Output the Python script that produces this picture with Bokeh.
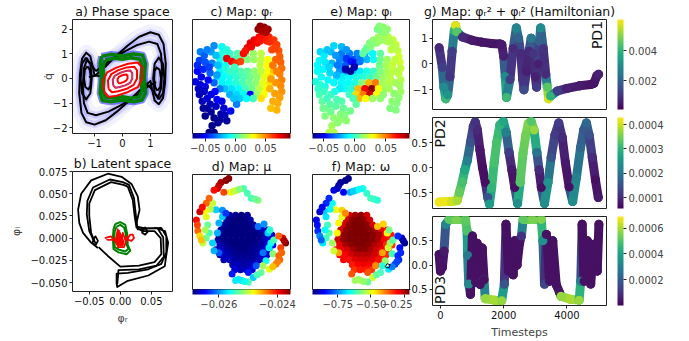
import numpy as np
from bokeh.plotting import figure
from bokeh.layouts import row, column
from bokeh.models import (ColumnDataSource, LinearColorMapper, ColorBar, FixedTicker,
                          CustomJSTickFormatter, Label, Range1d, AllLabels)
from bokeh.palettes import Viridis256
from bokeh.embed import file_html
from bokeh.resources import INLINE

FONT = "DejaVu Sans"

# ======================= DATA =======================
# --- a) phase space trajectories (q, q_dot) ---
BLACK_OUTER_Q = [-1.0, -0.6, -0.2, 0.2, 0.6, 1.0, 1.3, 1.47, 1.55, 1.52, 1.45, 1.3, 1.15, 1.05, 1.0,
                 0.6, 0.2, -0.2, -0.6, -1.0, -1.3, -1.47, -1.55, -1.52, -1.45, -1.3, -1.15, -1.05, -1.0]
BLACK_OUTER_QD = [0.1, 0.5, 0.95, 1.35, 1.7, 1.88, 1.78, 1.4, 0.6, -0.2, -0.8, -1.05, -0.9, -0.4, -0.1,
                  -0.5, -0.95, -1.35, -1.7, -1.88, -1.78, -1.4, -0.6, 0.2, 0.8, 1.05, 0.9, 0.4, 0.1]
BLACK_INNER_Q = [-0.95, -0.5, 0.0, 0.5, 0.95, 1.25, 1.38, 1.42, 1.38, 1.28, 1.15, 0.95,
                 0.5, 0.0, -0.5, -0.95, -1.25, -1.38, -1.42, -1.38, -1.28, -1.15, -0.95]
BLACK_INNER_QD = [0.3, 0.7, 1.05, 1.35, 1.5, 1.4, 1.0, 0.3, -0.4, -0.75, -0.6, -0.3,
                  -0.7, -1.05, -1.35, -1.5, -1.4, -1.0, -0.3, 0.4, 0.75, 0.6, 0.3]
LOBE_L_Q = [-1.3, -1.45, -1.5, -1.45, -1.3, -1.15, -1.1, -1.15, -1.3]
LOBE_L_QD = [0.85, 0.6, 0.0, -0.6, -0.85, -0.6, 0.0, 0.6, 0.85]
LOBE_L2_Q = [-1.25, -1.35, -1.38, -1.33, -1.22, -1.15, -1.13, -1.17, -1.25]
LOBE_L2_QD = [0.5, 0.35, 0.0, -0.35, -0.45, -0.3, 0.0, 0.35, 0.5]
LOBE_R_Q = [1.3, 1.45, 1.5, 1.45, 1.3, 1.15, 1.1, 1.15, 1.3]
LOBE_R_QD = [-0.85, -0.6, 0.0, 0.6, 0.85, 0.6, 0.0, -0.6, -0.85]
LOBE_R2_Q = [1.25, 1.35, 1.38, 1.33, 1.22, 1.15, 1.13, 1.17, 1.25]
LOBE_R2_QD = [-0.5, -0.35, 0.0, 0.35, 0.45, 0.3, 0.0, -0.35, -0.5]
BRIDGE_L_Q = [-1.2, -0.95, -0.7]
BRIDGE_L_QD = [0.05, 0.12, 0.08]
BRIDGE_R_Q = [0.7, 0.95, 1.2]
BRIDGE_R_QD = [-0.25, -0.3, -0.15]
GREEN_Q = [-0.75, -0.4, 0.0, 0.4, 0.72, 0.82, 0.78, 0.82, 0.7, 0.4, 0.0, -0.4, -0.72, -0.8, -0.76, -0.8, -0.75]
GREEN_QD = [0.9, 0.98, 0.92, 1.0, 0.95, 0.6, 0.0, -0.6, -0.88, -0.95, -0.88, -0.95, -0.9, -0.6, 0.0, 0.6, 0.9]
GREEN2_Q = [-0.62, -0.3, 0.0, 0.3, 0.62, 0.7, 0.66, 0.7, 0.6, 0.3, 0.0, -0.3, -0.62, -0.7, -0.66, -0.7, -0.62]
GREEN2_QD = [0.75, 0.82, 0.78, 0.84, 0.78, 0.5, 0.0, -0.5, -0.75, -0.8, -0.74, -0.8, -0.75, -0.5, 0.0, 0.5, 0.75]
RED1_Q = [-0.65, -0.7, -0.55, -0.2, 0.2, 0.55, 0.7, 0.7, 0.55, 0.2, -0.2, -0.5, -0.65]
RED1_QD = [-0.55, -0.1, 0.25, 0.45, 0.6, 0.65, 0.45, 0.0, -0.35, -0.55, -0.7, -0.75, -0.55]
RED2_Q = [-0.5, -0.52, -0.4, -0.15, 0.15, 0.42, 0.52, 0.52, 0.4, 0.15, -0.15, -0.38, -0.5]
RED2_QD = [-0.42, -0.08, 0.18, 0.34, 0.45, 0.48, 0.33, 0.0, -0.26, -0.42, -0.52, -0.56, -0.42]
RED3_Q = [-0.33, -0.35, -0.27, -0.1, 0.1, 0.28, 0.35, 0.35, 0.27, 0.1, -0.1, -0.25, -0.33]
RED3_QD = [-0.28, -0.05, 0.12, 0.22, 0.3, 0.32, 0.22, 0.0, -0.18, -0.28, -0.35, -0.38, -0.28]
RED4_Q = [-0.17, -0.18, -0.13, -0.05, 0.05, 0.14, 0.18, 0.18, 0.13, 0.05, -0.05, -0.13, -0.17]
RED4_QD = [-0.14, -0.03, 0.06, 0.11, 0.15, 0.16, 0.11, 0.0, -0.09, -0.14, -0.18, -0.19, -0.14]

# --- b) latent space (phi_R, phi_I) ---
B_OUT_X = [-0.036, -0.047, -0.060, -0.066, -0.068, -0.063, -0.047, -0.020, 0.002, 0.018,
           0.028, 0.031, 0.026, 0.028, 0.045, 0.066, 0.074, 0.074, 0.066, 0.045,
           0.012, -0.006, -0.006, -0.005, 0.012, 0.045, 0.0715, 0.077, 0.072, 0.055]
B_OUT_Y = [-0.011, -0.005, 0.006, 0.017, 0.032, 0.050, 0.065, 0.0725, 0.069, 0.061,
           0.047, 0.032, 0.017, 0.010, 0.011, 0.0115, 0.002, -0.016, -0.029, -0.035,
           -0.039, -0.040, -0.051, -0.055, -0.048, -0.042, -0.0315, -0.005, 0.008, 0.012]
B_IN_X = [-0.040, -0.047, -0.050, -0.050, -0.041, -0.015, 0.005, 0.012, 0.020, 0.023,
          0.026, 0.035, 0.055, 0.065, 0.066, 0.055, 0.030, 0.000, -0.020, -0.035]
B_IN_Y = [-0.006, 0.006, 0.025, 0.039, 0.054, 0.063, 0.060, 0.058, 0.043, 0.025,
          0.012, 0.008, 0.008, 0.000, -0.018, -0.027, -0.031, -0.032, -0.020, -0.010]
B_IN2_X = [-0.042, -0.050, -0.054, -0.053, -0.044, -0.017, 0.004, 0.014, 0.022, 0.025,
           0.027, 0.040, 0.060, 0.069, 0.070, 0.058, 0.030, -0.003, -0.004, -0.005]
B_IN2_Y = [-0.004, 0.008, 0.027, 0.042, 0.057, 0.066, 0.063, 0.060, 0.045, 0.026,
           0.013, 0.011, 0.011, 0.001, -0.021, -0.031, -0.035, -0.036, -0.045, -0.052]
CURL_L_X = [-0.045, -0.040, -0.036, -0.040, -0.045, -0.042]
CURL_L_Y = [-0.002, 0.002, -0.003, -0.008, -0.005, 0.0]
CURL_R_X = [0.034, 0.040, 0.044, 0.040, 0.035, 0.038]
CURL_R_Y = [0.008, 0.012, 0.007, 0.004, 0.006, 0.010]
GB_X = [-0.008, 0.000, 0.008, 0.011, 0.012, 0.016, 0.010, -0.003, -0.011, -0.012, -0.011, -0.008]
GB_Y = [0.016, 0.018, 0.015, 0.005, -0.008, -0.014, -0.018, -0.016, -0.012, 0.000, 0.010, 0.016]
GB2_X = [-0.006, 0.0, 0.006, 0.009, 0.010, 0.013, 0.008, -0.002, -0.009, -0.010, -0.009, -0.006]
GB2_Y = [0.013, 0.015, 0.012, 0.004, -0.007, -0.012, -0.015, -0.013, -0.010, 0.0, 0.008, 0.013]
RB_X = [-0.025, -0.015, -0.008, -0.004, 0.0, 0.004, 0.008, 0.012, 0.006, -0.004, 0.0, -0.010, -0.020, -0.024]
RB_Y = [0.0, 0.002, -0.004, 0.010, -0.008, 0.006, -0.002, 0.002, -0.010, -0.010, 0.004, -0.002, -0.002, 0.001]
RB2_X = [0.012, 0.016, 0.020, 0.022, 0.018, 0.013, 0.012]
RB2_Y = [0.000, 0.004, 0.004, 0.000, -0.003, -0.002, 0.000]
RBP_X = [-0.008, -0.002, 0.006, 0.004, -0.006]
RBP_Y = [-0.004, 0.009, -0.004, -0.009, -0.008]

# --- c/e) point cloud coloured by phi_R and phi_I ---
TOP_X = [6.7, 6.9, 7.3, 7.7, 7.1, 7.5]
TOP_Y = [10.7, 11.0, 10.9, 10.7, 10.5, 10.4]
TOP_R = [0.087, 0.088, 0.086, 0.085, 0.084, 0.083]
TOP_I = [0.008, 0.010, 0.012, 0.012, 0.010, 0.012]

ARC_X = [5.2, 5.6, 5.9, 6.3, 6.8, 7.3, 7.8, 8.3, 8.6, 8.8, 8.9, 9.0, 9.1, 8.9, 9.1, 9.0, 9.1, 8.9, 8.7, 8.6,
         8.4, 8.5, 8.6, 8.5, 8.4, 7.6, 6.6, 8.2, 8.0,
         5.4, 6.0, 6.9, 7.9, 8.1, 8.2, 8.0, 7.9]
ARC_Y = [8.2, 8.8, 9.3, 9.6, 9.9, 10.0, 9.9, 9.6, 9.1, 8.5, 7.9, 7.3, 6.7, 6.1, 5.5, 4.9, 4.3, 3.7, 3.1, 2.4,
         8.8, 7.6, 6.4, 5.2, 4.1, 9.5, 9.3, 3.3, 2.6,
         8.5, 8.9, 9.5, 9.4, 8.6, 7.0, 5.6, 4.6]
ARC_R = [0.070, 0.072, 0.075, 0.073, 0.070, 0.068, 0.065, 0.062, 0.060, 0.058,
         0.056, 0.055, 0.053, 0.050, 0.050, 0.048, 0.047, 0.045, 0.043, 0.042,
         0.060, 0.055, 0.050, 0.047, 0.045, 0.066, 0.070, 0.043, 0.040,
         0.068, 0.072, 0.068, 0.064, 0.060, 0.052, 0.046, 0.042]
ARC_I = [0.005, 0.008, 0.010, 0.012, 0.015, 0.015, 0.018, 0.020, 0.020, 0.020,
         0.022, 0.022, 0.020, 0.020, 0.018, 0.015, 0.015, 0.012, 0.010, 0.010,
         0.018, 0.020, 0.018, 0.015, 0.012, 0.016, 0.012, 0.012, 0.010,
         0.006, 0.010, 0.014, 0.017, 0.019, 0.020, 0.018, 0.016]

LEFT_X = [0.8, 1.2, 0.7, 1.3, 0.5, 1.1, 0.3, 0.9, 0.8, 1.3, 1.2, 0.7, 1.0, 1.5, 1.5, 1.3, 1.9, 2.2, 2.9, 3.5,
          2.0, 2.2, 1.7, 2.6, 3.9, 4.5, 4.2, 2.4, 3.2, 1.9, 2.5,
          0.5, 1.6, 1.7, 0.6, 1.8, 2.3, 1.1, 3.0, 2.8, 3.3, 1.5]
LEFT_Y = [8.4, 8.0, 7.5, 7.3, 6.4, 6.6, 5.3, 5.8, 5.0, 4.8, 4.3, 4.0, 3.3, 3.6, 2.6, 1.8, 2.2, 1.6, 2.0, 1.3,
          0.8, 0.1, 0.1, 1.1, 2.3, 3.0, 3.6, 2.8, 2.6, 4.0, 3.5,
          7.0, 5.5, 6.8, 4.6, 3.0, 4.3, 2.6, 3.3, 1.4, 1.9, 8.6]
LEFT_R = [-0.030, -0.035, -0.040, -0.038, -0.050, -0.045, -0.055, -0.052, -0.057, -0.055,
          -0.060, -0.062, -0.062, -0.058, -0.066, -0.068, -0.066, -0.068, -0.064, -0.066,
          -0.069, -0.070, -0.070, -0.067, -0.050, -0.030, -0.020, -0.060, -0.058, -0.055, -0.050,
          -0.045, -0.050, -0.040, -0.060, -0.062, -0.050, -0.066, -0.055, -0.067, -0.062, -0.030]
LEFT_I = [-0.015, -0.012, -0.010, -0.012, -0.008, -0.010, -0.005, -0.008, -0.003, -0.005,
          0.000, 0.002, 0.005, 0.000, 0.008, 0.010, 0.008, 0.012, 0.010, 0.012,
          0.015, 0.018, 0.018, 0.012, 0.008, 0.005, 0.002, 0.005, 0.006, 0.000, 0.002,
          -0.010, -0.010, -0.015, -0.002, 0.004, -0.005, 0.008, 0.003, 0.012, 0.010, -0.018]

UL_X = [1.9, 2.4, 2.0, 2.6, 1.8, 2.5, 2.2, 2.8, 3.0, 3.5, 2.2]
UL_Y = [8.4, 8.0, 7.2, 7.0, 6.2, 6.0, 5.2, 4.6, 8.9, 8.6, 9.0]
UL_R = [-0.025, -0.020, -0.030, -0.020, -0.035, -0.025, -0.035, -0.030, -0.010, -0.005, -0.028]
UL_I = [-0.020, -0.025, -0.020, -0.030, -0.015, -0.020, -0.010, -0.012, -0.020, -0.025, -0.015]

BAND_X = [3.0, 3.8, 4.6, 5.4, 6.2, 7.0,
          2.8, 3.5, 4.2, 4.9, 5.6, 6.3, 7.0, 7.7,
          2.8, 3.4, 6.9, 7.6, 8.2,
          2.8, 3.5, 4.2, 4.9, 5.6, 6.3, 7.0, 7.7, 8.3,
          2.5, 3.1, 3.8, 4.5, 5.2, 5.9, 6.6, 7.3, 8.0,
          3.0, 3.7, 4.4, 5.1, 5.8, 6.5, 7.2, 7.9,
          3.3, 4.0, 4.7, 5.4, 6.1, 6.8, 7.5,
          3.8, 4.5, 5.2, 5.9, 6.6, 7.3,
          4.8, 5.5, 6.2, 7.0]
BAND_Y = [8.2, 8.2, 8.2, 8.2, 8.2, 8.2,
          7.6, 7.6, 7.6, 7.6, 7.6, 7.6, 7.6, 7.6,
          7.0, 7.0, 7.0, 7.0, 7.0,
          6.4, 6.4, 6.4, 6.4, 6.4, 6.4, 6.4, 6.4, 6.4,
          5.8, 5.8, 5.8, 5.8, 5.8, 5.8, 5.8, 5.8, 5.8,
          5.2, 5.2, 5.2, 5.2, 5.2, 5.2, 5.2, 5.2,
          4.6, 4.6, 4.6, 4.6, 4.6, 4.6, 4.6,
          4.0, 4.0, 4.0, 4.0, 4.0, 4.0,
          3.6, 3.6, 3.6, 3.6]
BAND_R = [-0.005, -0.002, 0.003, 0.009, 0.014, 0.020,
          -0.008, -0.004, 0.000, 0.006, 0.010, 0.014, 0.020, 0.030,
          -0.012, -0.008, 0.020, 0.030, 0.040,
          -0.012, -0.007, -0.003, 0.002, 0.005, 0.012, 0.020, 0.030, 0.040,
          -0.015, -0.010, -0.007, -0.002, 0.002, 0.008, 0.013, 0.026, 0.035,
          -0.012, -0.008, -0.004, 0.001, 0.008, 0.012, 0.026, 0.035,
          -0.020, -0.015, -0.010, 0.000, 0.008, 0.020, 0.030,
          -0.022, -0.016, -0.010, -0.050, 0.015, 0.030,
          -0.018, -0.010, 0.000, 0.035]
BAND_I = [-0.030, -0.030, -0.028, -0.022, -0.010, 0.005,
          -0.028, -0.032, -0.035, -0.030, -0.020, -0.008, 0.008, 0.015,
          -0.025, -0.035, 0.008, 0.015, 0.020,
          -0.025, -0.030, -0.020, -0.012, -0.006, 0.000, 0.010, 0.016, 0.020,
          -0.012, -0.012, -0.010, -0.006, -0.004, 0.000, 0.008, 0.014, 0.018,
          -0.010, -0.008, -0.005, 0.010, 0.040, 0.050, 0.015, 0.018,
          -0.008, -0.004, 0.040, 0.070, 0.085, 0.030, 0.015,
          0.000, 0.035, 0.050, 0.075, 0.030, 0.012,
          0.040, 0.030, 0.015, 0.012]

HOLE_X = [3.5, 4.0, 4.4, 4.9, 3.4, 3.9, 4.3]
HOLE_Y = [7.7, 7.4, 7.2, 7.4, 6.6, 6.4, 6.8]
HOLE_R = [0.075, 0.070, 0.065, 0.060, -0.005, -0.002, 0.000]
HOLE_I = [-0.040, -0.045, -0.050, -0.030, -0.060, -0.065, -0.060]

# --- d/f) point cloud coloured by mu and omega ---
RING_X = [3.4, 3.7, 2.7, 2.55, 3.2, 1.7, 1.4, 0.75, 0.4, 0.55, 0.75, 9.2, 9.5, 8.8, 9.0, 8.8, 8.5, 8.9,
          2.9, 2.2, 1.0, 0.5, 0.9, 9.35, 9.1, 8.7, 8.2]
RING_Y = [11.0, 11.2, 10.5, 10.2, 9.8, 9.2, 8.7, 7.85, 7.0, 5.9, 5.4, 5.2, 4.7, 5.4, 4.2, 3.4, 2.55, 3.0,
          10.8, 10.0, 8.3, 6.5, 5.0, 4.95, 3.7, 2.8, 2.3]
RING_MU = [-0.0236, -0.0236, -0.0238, -0.0238, -0.0242, -0.0243, -0.0243, -0.0238, -0.0240, -0.0243,
           -0.0247, -0.0239, -0.0236, -0.0243, -0.0242, -0.0243, -0.0244, -0.0243,
           -0.0237, -0.0240, -0.0240, -0.0242, -0.0246, -0.0237, -0.0243, -0.0244, -0.0246]
RING_OM = [-0.93, -0.93, -0.90, -0.90, -0.85, -0.82, -0.82, -0.88, -0.86, -0.82,
           -0.75, -0.88, -0.93, -0.82, -0.84, -0.82, -0.80, -0.82,
           -0.92, -0.87, -0.86, -0.84, -0.78, -0.91, -0.82, -0.80, -0.76]
MID_X = [3.9, 4.5, 5.2, 6.0, 6.7, 2.05, 1.4, 1.55, 1.72, 2.05, 2.2, 1.06, 7.85, 7.0, 7.5, 8.0, 6.2, 5.7, 5.0, 4.4,
         4.2, 4.8, 5.6, 6.4, 1.8, 1.2, 1.3, 1.4, 7.2, 6.6, 5.3, 4.7, 8.2, 8.3, 7.9]
MID_Y = [9.8, 10.0, 10.2, 9.2, 9.0, 8.7, 7.35, 6.5, 5.7, 4.7, 3.9, 4.7, 2.05, 1.72, 2.9, 4.7, 1.2, 0.75, 0.9, 0.9,
         9.9, 10.1, 9.7, 9.1, 8.1, 7.9, 6.0, 5.2, 2.4, 1.5, 0.8, 1.0, 3.6, 5.0, 6.0]
MID_MU = [-0.0248, -0.0251, -0.0254, -0.0254, -0.0252, -0.0250, -0.0249, -0.0253, -0.0254, -0.0258,
          -0.0259, -0.0250, -0.0249, -0.0253, -0.0256, -0.0256, -0.0258, -0.0254, -0.0257, -0.0257,
          -0.0250, -0.0252, -0.0254, -0.0253, -0.0250, -0.0248, -0.0251, -0.0253, -0.0251, -0.0254,
          -0.0256, -0.0257, -0.0252, -0.0254, -0.0255]
MID_OM = [-0.72, -0.68, -0.65, -0.62, -0.64, -0.66, -0.68, -0.62, -0.60, -0.55,
          -0.52, -0.68, -0.68, -0.62, -0.56, -0.55, -0.52, -0.60, -0.55, -0.55,
          -0.70, -0.66, -0.63, -0.63, -0.67, -0.70, -0.66, -0.62, -0.64, -0.60,
          -0.56, -0.55, -0.62, -0.60, -0.58]
INNER_X = [2.4, 3.05, 2.7, 2.55, 2.7, 6.7, 7.7, 7.2, 6.5, 4.04, 5.7, 3.05, 3.4, 7.3, 7.8]
INNER_Y = [8.05, 8.0, 6.7, 5.7, 3.7, 6.36, 5.7, 3.7, 2.4, 1.56, 1.72, 7.35, 7.7, 6.6, 4.2]
INNER_MU = [-0.0258, -0.0260, -0.0259, -0.0259, -0.0262, -0.0261, -0.0258, -0.0261, -0.0262, -0.0264,
            -0.0264, -0.0258, -0.0263, -0.0260, -0.0257]
INNER_OM = [-0.50, -0.45, -0.48, -0.48, -0.42, -0.44, -0.50, -0.42, -0.40, -0.36,
            -0.36, -0.50, -0.40, -0.45, -0.52]
BLOB_X = [3.8, 4.4, 5.0, 5.6,
          3.5, 4.1, 4.7, 5.3, 5.9,
          3.2, 3.8, 4.4, 5.0, 5.6, 6.2,
          2.9, 3.5, 4.1, 4.7, 5.3, 5.9, 6.5, 7.1, 7.7,
          2.7, 3.3, 3.9, 4.5, 5.1, 5.7, 6.3, 6.9, 7.5, 8.1,
          2.6, 3.2, 3.8, 4.4, 5.0, 5.6, 6.2, 6.8, 7.4, 8.0,
          2.8, 3.4, 4.0, 4.6, 5.2, 5.8, 6.4, 7.0, 7.6, 8.2,
          2.4, 3.0, 3.6, 4.2, 4.8, 5.4, 6.0, 6.6, 7.2, 7.8,
          2.8, 3.4, 4.0, 4.6, 5.2, 5.8, 6.4, 7.0, 7.6,
          3.2, 3.8, 4.4, 5.0, 5.6, 6.2, 6.8, 7.4,
          4.1, 4.7, 5.3, 5.9, 6.5,
          4.3, 4.9, 5.5, 6.1]
BLOB_Y = [7.5, 7.5, 7.5, 7.5,
          7.0, 7.0, 7.0, 7.0, 7.0,
          6.5, 6.5, 6.5, 6.5, 6.5, 6.5,
          6.0, 6.0, 6.0, 6.0, 6.0, 6.0, 6.0, 6.0, 6.0,
          5.5, 5.5, 5.5, 5.5, 5.5, 5.5, 5.5, 5.5, 5.5, 5.5,
          5.0, 5.0, 5.0, 5.0, 5.0, 5.0, 5.0, 5.0, 5.0, 5.0,
          4.5, 4.5, 4.5, 4.5, 4.5, 4.5, 4.5, 4.5, 4.5, 4.5,
          4.0, 4.0, 4.0, 4.0, 4.0, 4.0, 4.0, 4.0, 4.0, 4.0,
          3.5, 3.5, 3.5, 3.5, 3.5, 3.5, 3.5, 3.5, 3.5,
          3.0, 3.0, 3.0, 3.0, 3.0, 3.0, 3.0, 3.0,
          2.5, 2.5, 2.5, 2.5, 2.5,
          2.0, 2.0, 2.0, 2.0]
BLOB_MU = [-0.0268, -0.02685, -0.0269, -0.0268,
           -0.0268, -0.0269, -0.0269, -0.0269, -0.0268,
           -0.0268, -0.0269, -0.0269, -0.0269, -0.0269, -0.0268,
           -0.0268, -0.0269, -0.0269, -0.0269, -0.0269, -0.0269, -0.02685, -0.0267, -0.0266,
           -0.0268, -0.0269, -0.0269, -0.0269, -0.0269, -0.0269, -0.0269, -0.02685, -0.0267, -0.0266,
           -0.0268, -0.0269, -0.0269, -0.0269, -0.0269, -0.0269, -0.0269, -0.02685, -0.0267, -0.0266,
           -0.0267, -0.02685, -0.0269, -0.0269, -0.0269, -0.0269, -0.02685, -0.0268, -0.0266, -0.0265,
           -0.0267, -0.0267, -0.0268, -0.02685, -0.0269, -0.0269, -0.02685, -0.0268, -0.0267, -0.0266,
           -0.0267, -0.0267, -0.0268, -0.02685, -0.02685, -0.02685, -0.0268, -0.0267, -0.0266,
           -0.0267, -0.0267, -0.0268, -0.0268, -0.0268, -0.0268, -0.0267, -0.0266,
           -0.0267, -0.0267, -0.0268, -0.0267, -0.0266,
           -0.0266, -0.0267, -0.0267, -0.0266]
BLOB_OM = [-0.27, -0.24, -0.22, -0.27,
           -0.27, -0.22, -0.21, -0.22, -0.27,
           -0.27, -0.22, -0.21, -0.21, -0.22, -0.27,
           -0.27, -0.22, -0.21, -0.21, -0.21, -0.22, -0.24, -0.29, -0.31,
           -0.27, -0.22, -0.21, -0.21, -0.21, -0.21, -0.22, -0.24, -0.30, -0.32,
           -0.27, -0.22, -0.21, -0.21, -0.21, -0.21, -0.22, -0.24, -0.30, -0.32,
           -0.29, -0.24, -0.22, -0.21, -0.21, -0.22, -0.24, -0.27, -0.33, -0.34,
           -0.30, -0.29, -0.27, -0.24, -0.22, -0.22, -0.24, -0.27, -0.30, -0.32,
           -0.30, -0.30, -0.27, -0.25, -0.25, -0.25, -0.27, -0.30, -0.33,
           -0.30, -0.31, -0.28, -0.27, -0.27, -0.28, -0.31, -0.33,
           -0.32, -0.30, -0.29, -0.30, -0.33,
           -0.34, -0.32, -0.32, -0.34]
LOOP_F_X = [7.5, 7.7, 8.0, 7.9, 7.6, 7.5]
LOOP_F_Y = [2.3, 2.6, 2.5, 2.2, 2.2, 2.3]

# --- g) Hamiltonian time series ---
PD1_T = [-40, 60, 110, 170, 230, 300, 370, 440, 480, 520, 700, 1000, 1300, 1600, 1880, 1940, 2000, 2050, 2090,
         2200, 2300, 2400, 2470, 2540, 2600, 2640, 2720, 2800, 2870, 2940, 3000, 3040, 3090, 3130, 3170,
         3250, 3330, 3380, 3420, 3480, 3700, 4000, 4400, 4750, 4850, 4950, 5000]
PD1_V = [0.63, -0.14, -0.9, -1.35, -1.2, -0.5, 0.5, 1.3, 1.5, 1.25, 1.05, 0.92, 0.85, 0.8, 0.78, 0.75, 0.3, -0.5,
         -1.3, -0.6, 0.6, 1.4, 1.0, 0.4, -0.6, -1.0, -0.3, 0.5, 1.0, 0.4, -0.5, -0.9, 0.0, 0.9, 1.4, 0.6, -0.4,
         -0.9, -1.35, -1.25, -1.05, -0.95, -0.85, -0.8, -0.75, -0.45, -0.4]
PD1_H = [0.0008, 0.0012, 0.003, 0.0042, 0.0032, 0.001, 0.0012, 0.004, 0.0058, 0.0045, 0.0008, 0.0005, 0.0004,
         0.0004, 0.0004, 0.0005, 0.0006, 0.003, 0.0042, 0.0012, 0.0008, 0.0028, 0.002, 0.0008, 0.001, 0.0015,
         0.0006, 0.0008, 0.0025, 0.001, 0.0006, 0.0012, 0.0006, 0.002, 0.003, 0.001, 0.0008, 0.0045, 0.0058,
         0.004, 0.0012, 0.0006, 0.0005, 0.0004, 0.0004, 0.0005, 0.0006]
PD2_T = [-40, 150, 350, 530, 600, 690, 770, 850, 950, 1040, 1100, 1170, 1250, 1330, 1420, 1500, 1550, 1620, 1700,
         1780, 1880, 1990, 2080, 2170, 2260, 2350, 2440, 2520, 2610, 2700, 2780, 2870, 2960, 3050, 3120, 3190,
         3290, 3400, 3500, 3620, 3740, 3850, 3950, 4070, 4180, 4300, 4430, 4530, 4615, 4700, 4800, 4900, 4990]
PD2_V = [-0.69, -0.68, -0.68, -0.66, -0.5, -0.29, -0.05, 0.14, 0.5, 0.82, 0.91, 0.75, 0.35, 0.0, -0.3, -0.6,
         -0.73, -0.4, 0.1, 0.5, 0.85, 0.92, 0.7, 0.3, -0.05, -0.4, -0.72, -0.3, 0.28, 0.65, 0.88, 0.92, 0.75,
         0.3, -0.05, -0.4, -0.72, -0.3, 0.2, 0.65, 0.89, 0.6, 0.1, -0.39, -0.68, -0.2, 0.4, 0.75, 0.89, 0.65,
         0.2, -0.25, -0.6]
PD2_H = [0.00042, 0.00042, 0.0004, 0.00038, 0.00034, 0.00032, 0.00028, 0.00022, 0.00015, 0.00012, 0.00011,
         0.0001, 0.00008, 0.00007, 0.00007, 0.00015, 0.00026, 0.0003, 0.00032, 0.00032, 0.0003, 0.00028,
         0.00022, 0.00012, 0.00008, 0.00007, 0.00024, 0.00033, 0.00034, 0.00035, 0.00036, 0.00033, 0.00037,
         0.0002, 0.0001, 0.00007, 0.00024, 0.00025, 0.00015, 0.00012, 0.00012, 0.0001, 0.00008, 0.00007,
         0.00024, 0.00022, 0.00018, 0.00016, 0.00018, 0.00015, 0.0001, 0.00007, 0.00008]
PD3_T = [-40, 0, 60, 115, 166, 271, 500, 791, 843, 860, 896, 950, 1010, 1060, 1110, 1160, 1210, 1260, 1320,
         1380, 1416, 1700, 1937, 2020, 2073, 2150, 2250, 2300, 2350, 2420, 2500, 2560, 2615, 2900, 3187, 3240,
         3290, 3350, 3450, 3550, 3660, 3770, 3812, 4100, 4385, 4437, 4480, 4541, 4646, 4750, 4854, 4958, 5010]
PD3_V = [0.22, -0.12, -0.05, 0.29, 0.84, 0.94, 0.94, 0.94, 0.70, 0.2, -0.39, -0.6, 0.6, 0.1, -0.35, 0.45, 0.0,
         -0.4, 0.35, -0.3, -0.69, -0.72, -0.73, -0.39, 0.84, -0.12, 0.43, -0.2, 0.5, 0.0, 0.45, 0.6, 0.94,
         0.94, 0.94, 0.5, -0.39, 0.63, -0.33, 0.5, -0.4, -0.57, -0.64, -0.7, -0.72, -0.33, 0.84, -0.33, 0.5,
         -0.39, 0.43, -0.12, 0.84]
PD3_H = [0.00003, 0.00003, 0.00003, 0.00005, 0.00032, 0.00052, 0.00055, 0.00052, 0.0005, 0.00028,
         0.00033, 0.00003, 0.00003, 0.00003, 0.00003, 0.00003, 0.00003, 0.00003, 0.00003, 0.00003,
         0.00058, 0.0006, 0.00058, 0.00018, 0.00003, 0.00003, 0.00003, 0.00003, 0.00003, 0.00003,
         0.00003, 0.0001, 0.00052, 0.00055, 0.00056, 0.00035, 0.00015, 0.00003, 0.00003, 0.00003,
         0.00003, 0.00003, 0.00058, 0.0006, 0.00058, 0.0003, 0.00003, 0.00003, 0.00003, 0.00003,
         0.00003, 0.00003, 0.00003]

# tick labels / ranges
A_XTICKS = [-1, 0, 1]
A_YTICKS = [-2, -1, 0, 1, 2]
B_XTICKS = [-0.05, 0.0, 0.05]
B_YTICKS = [-0.05, -0.025, 0.0, 0.025, 0.05, 0.075]
PHI_TICKS = [-0.05, 0.0, 0.05]
MU_TICKS = [-0.026, -0.024]
OM_TICKS = [-0.75, -0.5, -0.25]
G_TTICKS = [0, 2000, 4000]
G1_YTICKS = [-1, 0, 1]
G23_YTICKS = [-0.5, 0.0, 0.5]
G1_CTICKS = [0.002, 0.004]
G2_CTICKS = [0.0001, 0.0002, 0.0003, 0.0004]
G3_CTICKS = [0.0002, 0.0004, 0.0006]


# ======================= HELPERS =======================
def jet_palette(n=256):
    out = []
    for i in range(n):
        s = i / (n - 1)
        r = min(max(1.5 - abs(4 * s - 3), 0), 1)
        g = min(max(1.5 - abs(4 * s - 2), 0), 1)
        b = min(max(1.5 - abs(4 * s - 1), 0), 1)
        out.append("#%02x%02x%02x" % (int(r * 255), int(g * 255), int(b * 255)))
    return out


JET = jet_palette()


def fmt(dec):
    return CustomJSTickFormatter(args=dict(d=dec), code="""
        const s = Math.abs(tick) < 1e-12 ? (0).toFixed(d) : tick.toFixed(d);
        return s.replace('-', '\u2212');
    """)


def make_fig(w, h, xr, yr, lb, rb, tb, bb, title=None, xaxis=True, yaxis=True):
    kw = {}
    if not xaxis:
        kw["x_axis_location"] = None
    if not yaxis:
        kw["y_axis_location"] = None
    p = figure(width=w, height=h, x_range=Range1d(*xr), y_range=Range1d(*yr),
               output_backend="svg", toolbar_location=None, title=title,
               min_border_left=lb, min_border_right=rb, min_border_top=tb, min_border_bottom=bb, **kw)
    p.outline_line_color = "#222222"
    p.outline_line_width = 1
    for g in p.grid:
        g.visible = False
    p.background_fill_color = "white"
    p.border_fill_color = "white"
    if title:
        p.title.text_font = FONT
        p.title.text_font_size = "12.5px"
        p.title.text_font_style = "normal"
        p.title.text_color = "#111111"
        p.title.align = "center"
        p.title.standoff = 2
    return p


def style_axis(ax, ticks, dec, label=None, label_standoff=4):
    ax.ticker = FixedTicker(ticks=ticks)
    ax.formatter = fmt(dec)
    ax.major_label_policy = AllLabels()
    ax.major_label_text_font = FONT
    ax.major_label_text_font_size = "10px"
    ax.major_label_text_color = "#111111"
    ax.major_tick_in = 0
    ax.major_tick_out = 3
    ax.major_tick_line_color = "#222222"
    ax.minor_tick_line_color = None
    ax.axis_line_color = None
    ax.major_label_standoff = 2
    if label:
        ax.axis_label = label
        ax.axis_label_text_font = FONT
        ax.axis_label_text_font_size = "11px"
        ax.axis_label_text_font_style = "normal"
        ax.axis_label_standoff = label_standoff


def add_cbar(p, mapper, ticks, dec, side):
    common = dict(color_mapper=mapper, padding=0, margin=0, ticker=FixedTicker(ticks=ticks),
                  formatter=fmt(dec), major_label_policy=AllLabels(),
                  major_label_text_font=FONT, major_label_text_font_size="10px",
                  major_tick_in=0, major_tick_out=3, major_tick_line_color="#222222",
                  label_standoff=2, bar_line_color=None, border_line_color=None,
                  background_fill_alpha=0, minor_tick_line_color=None)
    if side == "below":
        cb = ColorBar(orientation="horizontal", height=5, width="auto", location=(0, 0), **common)
    else:
        cb = ColorBar(orientation="vertical", width=6, height="auto", location=(11, 0), **common)
    p.add_layout(cb, side)


# ======================= a) =======================
pa = make_fig(185, 152, (-1.79, 1.79), (-2.24, 2.4), 72, 13, 17, 19, title="a) Phase space")
style_axis(pa.xaxis[0], A_XTICKS, 0)
style_axis(pa.yaxis[0], A_YTICKS, 0, label="q\u0307", label_standoff=-5)
blacks = [(BLACK_OUTER_Q, BLACK_OUTER_QD), (BLACK_INNER_Q, BLACK_INNER_QD), (LOBE_L_Q, LOBE_L_QD),
          (LOBE_L2_Q, LOBE_L2_QD), (LOBE_R_Q, LOBE_R_QD), (LOBE_R2_Q, LOBE_R2_QD),
          (BRIDGE_L_Q, BRIDGE_L_QD), (BRIDGE_R_Q, BRIDGE_R_QD)]
for xs, ys in blacks[:2]:
    pa.line(xs, ys, line_color="#4040ff", line_alpha=0.07, line_width=16, line_join="round")
    pa.line(xs, ys, line_color="#3030ff", line_alpha=0.14, line_width=7, line_join="round")
for xs, ys in blacks[2:6]:
    pa.line(xs, ys, line_color="#3030ff", line_alpha=0.2, line_width=6, line_join="round")
pa.line(GREEN_Q, GREEN_QD, line_color="#2020ff", line_alpha=0.55, line_width=7, line_join="round")
pa.line(GREEN2_Q, GREEN2_QD, line_color="#5050ff", line_alpha=0.25, line_width=7, line_join="round")
for xs, ys in blacks:
    pa.line(xs, ys, line_color="black", line_width=2, line_join="round")
pa.line(GREEN_Q, GREEN_QD, line_color="green", line_width=3.5, line_join="round")
pa.line(GREEN2_Q, GREEN2_QD, line_color="green", line_width=3.5, line_join="round")
for xs, ys in [(RED1_Q, RED1_QD), (RED2_Q, RED2_QD), (RED3_Q, RED3_QD), (RED4_Q, RED4_QD)]:
    pa.line(xs, ys, line_color="red", line_width=2, line_join="round")
pa.line(RED3_Q, RED3_QD, line_color="#7070ff", line_width=1, line_alpha=0.7)

# ======================= b) =======================
pb = make_fig(185, 189, (-0.077, 0.084), (-0.060, 0.075), 72, 13, 17, 50, title="b) Latent space")
style_axis(pb.xaxis[0], B_XTICKS, 2, label="\u03c6\u1d63")
style_axis(pb.yaxis[0], B_YTICKS, 3, label="\u03c6\u1d62")
for xs, ys in [(B_OUT_X, B_OUT_Y), (B_IN_X, B_IN_Y), (B_IN2_X, B_IN2_Y), (CURL_L_X, CURL_L_Y),
               (CURL_R_X, CURL_R_Y)]:
    pb.line(xs, ys, line_color="black", line_width=1.8, line_join="round")
pb.line(GB_X, GB_Y, line_color="green", line_width=2, line_join="round")
pb.line(GB2_X, GB2_Y, line_color="green", line_width=2, line_join="round")
pb.patch(RBP_X, RBP_Y, fill_color="red", line_color="red")
pb.line(RB_X, RB_Y, line_color="red", line_width=1.8, line_join="round")
pb.line(RB2_X, RB2_Y, line_color="red", line_width=1.8, line_join="round")

# ======================= c) / e) =======================
CE_X = BAND_X + UL_X + LEFT_X + ARC_X + TOP_X + HOLE_X
CE_Y = BAND_Y + UL_Y + LEFT_Y + ARC_Y + TOP_Y + HOLE_Y
CE_R = BAND_R + UL_R + LEFT_R + ARC_R + TOP_R + HOLE_R
CE_I = BAND_I + UL_I + LEFT_I + ARC_I + TOP_I + HOLE_I
ce_src = ColumnDataSource(dict(x=CE_X, y=CE_Y, r=CE_R, i=CE_I))

map_c = LinearColorMapper(palette=JET, low=-0.071, high=0.091)
pc = make_fig(115, 155, (0, 10), (0, 11.7), 7, 9, 17, 22, title="c) Map: \u03c6\u1d63", xaxis=False, yaxis=False)
pc.scatter("x", "y", source=ce_src, size=7.5, fill_color={"field": "r", "transform": map_c}, line_color=None)
add_cbar(pc, map_c, PHI_TICKS, 2, "below")

map_e = LinearColorMapper(palette=JET, low=-0.068, high=0.088)
pe = make_fig(112, 155, (0, 10), (0, 11.7), 12, 2, 17, 22, title="e) Map: \u03c6\u1d62", xaxis=False, yaxis=False)
pe.scatter("x", "y", source=ce_src, size=7.5, fill_color={"field": "i", "transform": map_e}, line_color=None)
add_cbar(pe, map_e, PHI_TICKS, 2, "below")

# ======================= d) / f) =======================
DF_X = BLOB_X + INNER_X + MID_X + RING_X
DF_Y = BLOB_Y + INNER_Y + MID_Y + RING_Y
DF_MU = BLOB_MU + INNER_MU + MID_MU + RING_MU
DF_OM = BLOB_OM + INNER_OM + MID_OM + RING_OM
df_src = ColumnDataSource(dict(x=DF_X, y=DF_Y, mu=DF_MU, om=DF_OM))

map_d = LinearColorMapper(palette=JET, low=-0.0269, high=-0.02355)
pd_ = make_fig(115, 186, (0, 10), (0, 11.6), 4, 10, 17, 52, title="d) Map: \u03bc", xaxis=False, yaxis=False)
pd_.scatter("x", "y", source=df_src, size=7, fill_color={"field": "mu", "transform": map_d}, line_color=None)
add_cbar(pd_, map_d, MU_TICKS, 3, "below")

map_f = LinearColorMapper(palette=JET, low=-0.94, high=-0.21)
pf = make_fig(112, 186, (0, 10), (0, 11.6), 9, 3, 17, 52, title="f) Map: \u03c9", xaxis=False, yaxis=False)
pf.scatter("x", "y", source=df_src, size=7, fill_color={"field": "om", "transform": map_f}, line_color=None)
pf.line(LOOP_F_X, LOOP_F_Y, line_color="black", line_width=1)
add_cbar(pf, map_f, OM_TICKS, 2, "below")


# ======================= g) =======================
def series(p, t, v, h, mapper):
    t = np.asarray(t, float)
    v = np.asarray(v, float)
    h = np.asarray(h, float)
    seg = ColumnDataSource(dict(x0=t[:-1], y0=v[:-1], x1=t[1:], y1=v[1:], h=(h[:-1] + h[1:]) / 2))
    p.segment("x0", "y0", "x1", "y1", source=seg, line_width=9, line_cap="round",
              line_color={"field": "h", "transform": mapper})
    pts = ColumnDataSource(dict(t=t, v=v, h=h))
    p.scatter("t", "v", source=pts, size=9, fill_color={"field": "h", "transform": mapper}, line_color=None)


def pd_label(p, x, y, text):
    p.add_layout(Label(x=x, y=y, text=text, angle=np.pi / 2, text_align="left", text_baseline="bottom",
                       text_font=FONT, text_font_size="14px", text_color="#111111"))


T_RANGE = (-250, 5250)
g1 = make_fig(289, 113, T_RANGE, (-1.77, 1.73), 30, 83, 18, 4,
              title="g) Map: \u03c6\u1d63\u00b2 + \u03c6\u1d62\u00b2 (Hamiltonian)", xaxis=False)
style_axis(g1.yaxis[0], G1_YTICKS, 0)
m1 = LinearColorMapper(palette=Viridis256, low=0.00007, high=0.0061)
series(g1, PD1_T, PD1_V, PD1_H, m1)
add_cbar(g1, m1, G1_CTICKS, 3, "right")
pd_label(g1, 5190, 0.58, "PD1")

g2 = make_fig(289, 99, T_RANGE, (-0.82, 1.0), 30, 83, 4, 4, xaxis=False)
style_axis(g2.yaxis[0], G23_YTICKS, 1)
m2 = LinearColorMapper(palette=Viridis256, low=0.000055, high=0.000429)
series(g2, PD2_T, PD2_V, PD2_H, m2)
add_cbar(g2, m2, G2_CTICKS, 4, "right")
pd_label(g2, 250, 0.40, "PD2")

g3 = make_fig(289, 129, T_RANGE, (-0.83, 1.0), 30, 83, 4, 35)
style_axis(g3.yaxis[0], G23_YTICKS, 1)
style_axis(g3.xaxis[0], G_TTICKS, 0, label="Timesteps")
m3 = LinearColorMapper(palette=Viridis256, low=0.0, high=0.00069)
series(g3, PD3_T, PD3_V, PD3_H, m3)
add_cbar(g3, m3, G3_CTICKS, 4, "right")
pd_label(g3, 250, -0.80, "PD3")

for g in (g1, g2, g3):
    g.border_fill_alpha = 0

col1 = column(pa, pb)
col2 = column(pc, pd_)
col3 = column(pe, pf)
col4 = column(g1, g2, g3)
col4.margin = (0, 0, 0, -12)
layout = row(col1, col2, col3, col4)

open("out.html", "w").write(file_html(layout, INLINE))
